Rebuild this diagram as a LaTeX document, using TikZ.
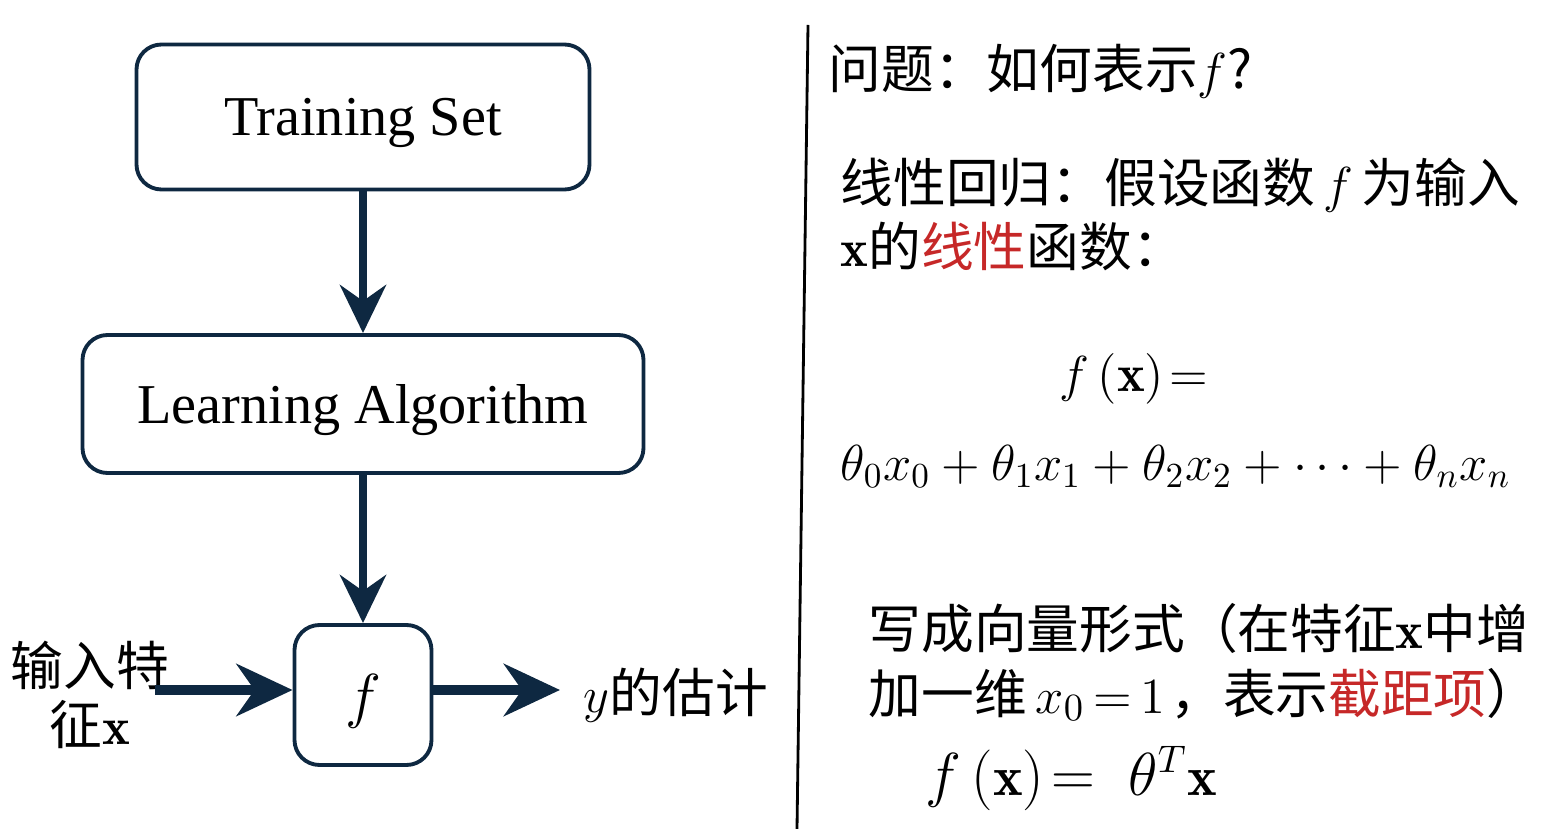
\documentclass[tikz,border=0pt]{standalone}
\usepackage{amsmath}
\usepackage{fontspec}
\usetikzlibrary{arrows.meta}
\newfontfamily\cjk{Noto Sans CJK SC}
\newfontfamily\boxfont{Liberation Serif}
\definecolor{navy}{HTML}{0E2841}
\definecolor{hlred}{HTML}{C62828}

\begin{document}
\begin{tikzpicture}[
    box/.style={draw=navy, line width=1.1pt, rounded corners=0.25cm, inner sep=0pt, text depth=0pt,
        font=\boxfont\fontsize{16}{19}\selectfont},
    flow/.style={draw=navy, line width=2.5pt, -{Stealth[length=0.48cm, width=0.46cm, inset=0.16cm]}},
    side/.style={draw=navy, line width=2.9pt, -{Stealth[length=0.56cm, width=0.52cm, inset=0.18cm]}},
    txt/.style={anchor=base west, inner sep=0pt, font=\cjk\fontsize{15}{18}\selectfont}
]
    % Page frame (1553 x 829 px, 100 px per cm)
    \useasboundingbox (0,0) rectangle (15.53,-8.29);

    % Flow chart on the left
    \node[box, minimum width=4.53cm, minimum height=1.45cm] (train) at (3.63,-1.17) {Training Set};
    \node[box, minimum width=5.61cm, minimum height=1.38cm] (learn) at (3.63,-4.04) {Learning Algorithm};
    \node[box, minimum width=1.37cm, minimum height=1.40cm, font=\fontsize{16}{19}\selectfont] (fbox) at (3.63,-6.95) {$f$};
    \draw[flow] (train) -- (learn);
    \draw[flow] (learn) -- (fbox);

    % Input and output of f
    \node[inner sep=0pt, align=center, font=\cjk\fontsize{15}{17}\selectfont] (xlbl) at (0.90,-6.95) {输入特\\征$\mathbf{x}$};
    \coordinate (xin) at (1.55,-6.90);
    \coordinate (yout) at (5.60,-6.90);
    \node[txt, anchor=west] (ylbl) at (5.83,-6.95) {$y$的估计};
    \draw[side] (xin) -- (xin -| fbox.west);
    \draw[side] (fbox.east |- yout) -- (yout);

    % Separator
    \draw[line width=0.8pt] (8.08,-0.25) -- (7.97,-8.29);

    % Text on the right
    \node[txt] (q) at (8.28,-0.89) {问题：如何表示$f$?};
    \node[txt] (lin1) at (8.40,-2.03) {线性回归：假设函数$\,f\,$为输入};
    \node[txt] (lin2) at (8.40,-2.67) {$\mathbf{x}$的\textcolor{hlred}{线性}函数：};
    \node[txt, anchor=base] (eq1) at (11.34,-3.92) {$f\,(\mathbf{x})\!=$};
    \node[txt, font=\fontsize{14.3}{17}\selectfont] (eq2) at (8.40,-4.80) {$\theta_0x_0+\theta_1x_1+\theta_2x_2+\cdots+\theta_nx_n$};
    \node[txt] (vec1) at (8.68,-6.48) {写成向量形式（在特征$\mathbf{x}$中增};
    \node[txt] (vec2) at (8.68,-7.13) {加一维\,$x_0\,{=}\,1$\hspace{0.1em}，表示\textcolor{hlred}{截距项}）};
    \node[txt, font=\fontsize{16}{19}\selectfont] (eq3) at (9.25,-7.95) {$f\,(\mathbf{x})\!=\;\theta^{T}\mathbf{x}$};
\end{tikzpicture}
\end{document}
